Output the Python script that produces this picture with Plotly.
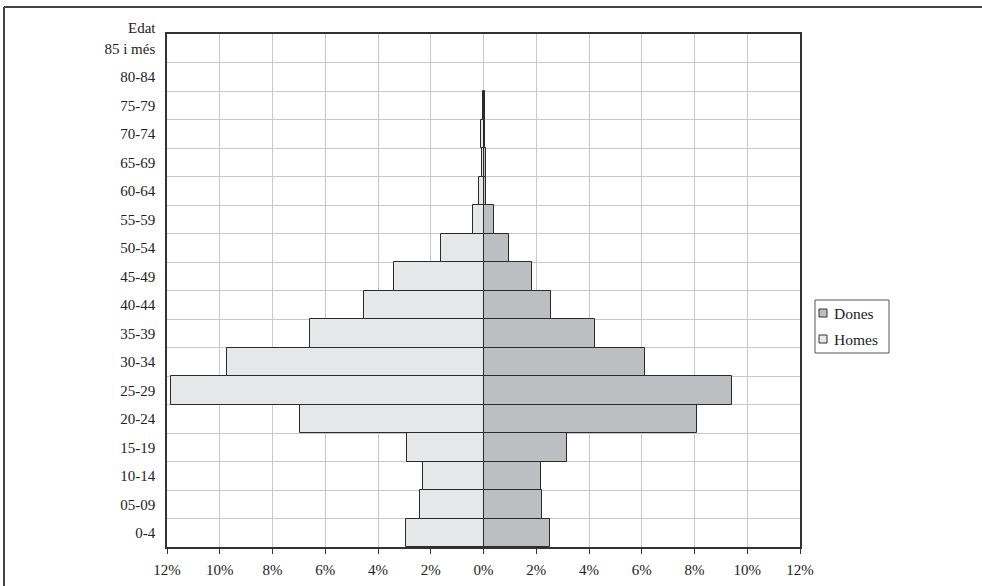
import plotly.graph_objects as go

# Age groups (bottom to top) and share of population (%) by sex
ages = ["0-4", "05-09", "10-14", "15-19", "20-24", "25-29", "30-34", "35-39",
        "40-44", "45-49", "50-54", "55-59", "60-64", "65-69", "70-74", "75-79",
        "80-84", "85 i més"]
homes = [2.95, 2.41, 2.28, 2.90, 6.97, 11.83, 9.71, 6.58, 4.52, 3.40, 1.62,
         0.39, 0.18, 0.06, 0.08, 0.03, 0.0, 0.0]
dones = [2.51, 2.22, 2.17, 3.18, 8.09, 9.42, 6.14, 4.23, 2.56, 1.84, 0.95,
         0.39, 0.09, 0.11, 0.05, 0.06, 0.0, 0.0]

tick_vals = [-12, -10, -8, -6, -4, -2, 0, 2, 4, 6, 8, 10, 12]
tick_text = ["12%", "10%", "8%", "6%", "4%", "2%", "0%", "2%", "4%", "6%", "8%", "10%", "12%"]

series_names = ["Dones", "Homes"]
series_colors = ["#bdbec2", "#e6e7e9"]

FONT = "Liberation Serif, DejaVu Serif, serif"
TEXT_COLOR = "#222"
EDGE_COLOR = "#2a2a2a"

W, H = 982, 586
ML, MR, MT, MB = 167, 182, 34, 39
PW, PH = W - ML - MR, H - MT - MB


def px(x):
    """Horizontal pixel position -> paper coordinate."""
    return (x - ML) / PW


def py(y):
    """Vertical pixel position (from top) -> paper coordinate."""
    return 1 - (y - MT) / PH


def edge(values):
    # no outline on empty groups, so they don't leave a stray vertical stroke
    return dict(color=EDGE_COLOR, width=[1 if v else 0 for v in values])


fig = go.Figure()
fig.add_trace(go.Bar(
    y=ages, x=dones, orientation="h", name=series_names[0],
    marker=dict(color=series_colors[0], line=edge(dones)),
))
fig.add_trace(go.Bar(
    y=ages, x=[-v for v in homes], orientation="h", name=series_names[1],
    marker=dict(color=series_colors[1], line=edge(homes)),
))

frame = dict(color="#444", width=2)
shapes = [
    # figure frame: top and left edges
    dict(type="line", xref="paper", yref="paper",
         x0=px(4), y0=py(7), x1=px(982), y1=py(7), line=frame, layer="below"),
    dict(type="line", xref="paper", yref="paper",
         x0=px(4), y0=py(7), x1=px(4), y1=py(586), line=frame, layer="below"),
    # key box
    dict(type="rect", xref="paper", yref="paper",
         x0=px(815), y0=py(353), x1=px(889), y1=py(300),
         line=dict(color="#555", width=1), fillcolor="white"),
]
annotations = [dict(
    text="Edat", xref="paper", yref="paper", x=px(158), y=py(28),
    xanchor="right", yanchor="middle", showarrow=False,
    font=dict(family=FONT, size=15, color=TEXT_COLOR),
)]
for i, (name, color) in enumerate(zip(series_names, series_colors)):
    cy = 313 + 26 * i
    shapes.append(dict(
        type="rect", xref="paper", yref="paper",
        x0=px(819), x1=px(827), y0=py(cy + 4), y1=py(cy - 4),
        line=dict(color="#333", width=1), fillcolor=color,
    ))
    annotations.append(dict(
        text=name, xref="paper", yref="paper", x=px(832), y=py(cy),
        xanchor="left", yanchor="middle", showarrow=False,
        font=dict(family=FONT, size=15.5, color=TEXT_COLOR),
    ))

fig.update_layout(
    width=W, height=H,
    margin=dict(l=ML, r=MR, t=MT, b=MB, autoexpand=False),
    paper_bgcolor="white", plot_bgcolor="white",
    barmode="relative", bargap=0,
    font=dict(family=FONT, size=15, color=TEXT_COLOR),
    showlegend=False,
    annotations=annotations,
    shapes=shapes,
)

fig.update_xaxes(
    range=[-12, 12], tickvals=tick_vals, ticktext=tick_text,
    showgrid=True, gridcolor="#c8c8c8", gridwidth=1,
    zeroline=False,
    showline=True, linecolor="#333", linewidth=1.5, mirror=True,
    ticks="outside", ticklen=5, tickcolor="#333", ticklabelstandoff=3,
    automargin=False, fixedrange=True,
)
fig.update_yaxes(
    type="category", categoryorder="array", categoryarray=ages,
    tickson="boundaries", showgrid=True, gridcolor="#c8c8c8", gridwidth=1,
    showline=True, linecolor="#333", linewidth=1.5, mirror=True,
    ticks="", ticklabelstandoff=7,
    automargin=False, fixedrange=True,
)

fig.write_html("out.html")
